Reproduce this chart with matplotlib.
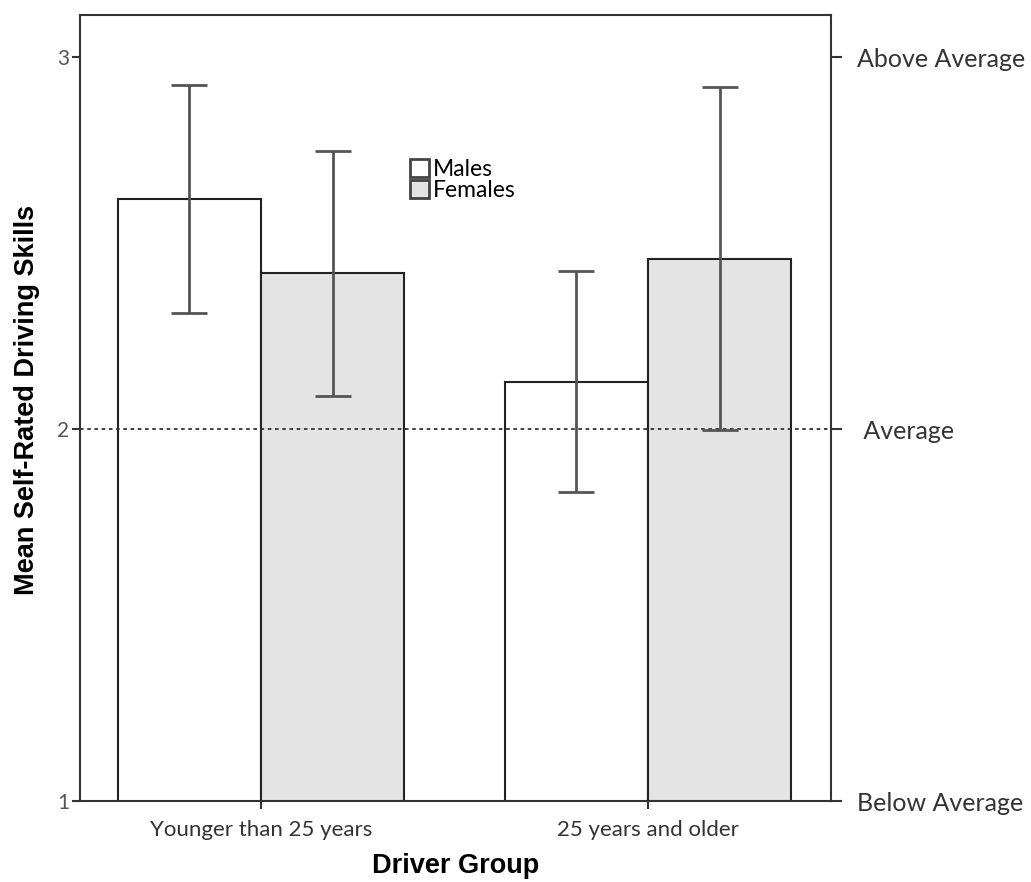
import matplotlib.pyplot as plt
import numpy as np

groups = ['Younger than 25 years', '25 years and older']
males = [2.618, 2.126]
females = [2.419, 2.457]
males_lo = [2.312, 1.831]
males_hi = [2.925, 2.425]
females_lo = [2.089, 1.997]
females_hi = [2.747, 2.919]
right_labels = ['Below Average', ' Average', 'Above Average']

tick_font = 'Lato'
label_font = 'Liberation Sans'
edge = '#222222'
err = '#555555'

fig = plt.figure(figsize=(10.31, 8.82), dpi=100)
ax = fig.add_axes([0.0776, 0.0918, 0.7284, 0.8912])

x = np.arange(len(groups))
w = 0.37
m_err = [np.array(males) - np.array(males_lo), np.array(males_hi) - np.array(males)]
f_err = [np.array(females) - np.array(females_lo), np.array(females_hi) - np.array(females)]

ax.bar(x - w / 2, males, w, bottom=0, color='white', edgecolor=edge, linewidth=1.5,
       label='Males', zorder=2)
ax.bar(x + w / 2, females, w, bottom=0, color='#e4e4e4', edgecolor=edge, linewidth=1.5,
       label='Females', zorder=2)
ax.errorbar(x - w / 2, males, yerr=m_err, fmt='none', ecolor=err, elinewidth=2,
            capsize=13, capthick=2, zorder=4)
ax.errorbar(x + w / 2, females, yerr=f_err, fmt='none', ecolor=err, elinewidth=2,
            capsize=13, capthick=2, zorder=4)

ax.axhline(2, color='#333333', linestyle=(0, (2, 2)), linewidth=1.3, zorder=3)

ax.set_xlim(-0.468, 1.473)
ax.set_ylim(1, 3.113)
ax.set_xticks(x)
ax.set_xticklabels(groups, fontfamily=tick_font, fontsize=16, color='#333333')
ax.set_yticks([1, 2, 3])
ax.set_yticklabels(['1', '2', '3'], fontfamily=tick_font, fontsize=15, color='#555555')
ax.tick_params(axis='both', direction='out', length=6, width=1.5, color='#333333', pad=2)
ax.tick_params(axis='x', pad=8)
for s in ax.spines.values():
    s.set_linewidth(1.5)
    s.set_color('#333333')

ax.set_xlabel('Driver Group', fontfamily=label_font, fontweight='bold', fontsize=19.5,
              labelpad=9)
ax.set_ylabel('Mean Self-Rated Driving Skills', fontfamily=label_font, fontweight='bold',
              fontsize=19.5)
ax.yaxis.set_label_coords(-0.053, 0.51)

ax2 = ax.twinx()
ax2.set_ylim(ax.get_ylim())
ax2.set_yticks([1, 2, 3])
ax2.set_yticklabels(right_labels, fontfamily=tick_font, fontsize=18, color='#333333')
ax2.tick_params(axis='y', direction='out', length=8, width=1.5, color='#333333', pad=11)
for s in ax2.spines.values():
    s.set_visible(False)

leg = ax.legend(loc='upper left', bbox_to_anchor=(0.424, 0.832), frameon=False,
                prop={'family': tick_font, 'size': 16.5}, handlelength=0.85,
                handleheight=0.85, handletextpad=0.15, labelspacing=0.0,
                borderpad=0)
for h in leg.legend_handles:
    h.set_edgecolor('#444444')
    h.set_linewidth(2)

fig.savefig('out.png', dpi=100)
